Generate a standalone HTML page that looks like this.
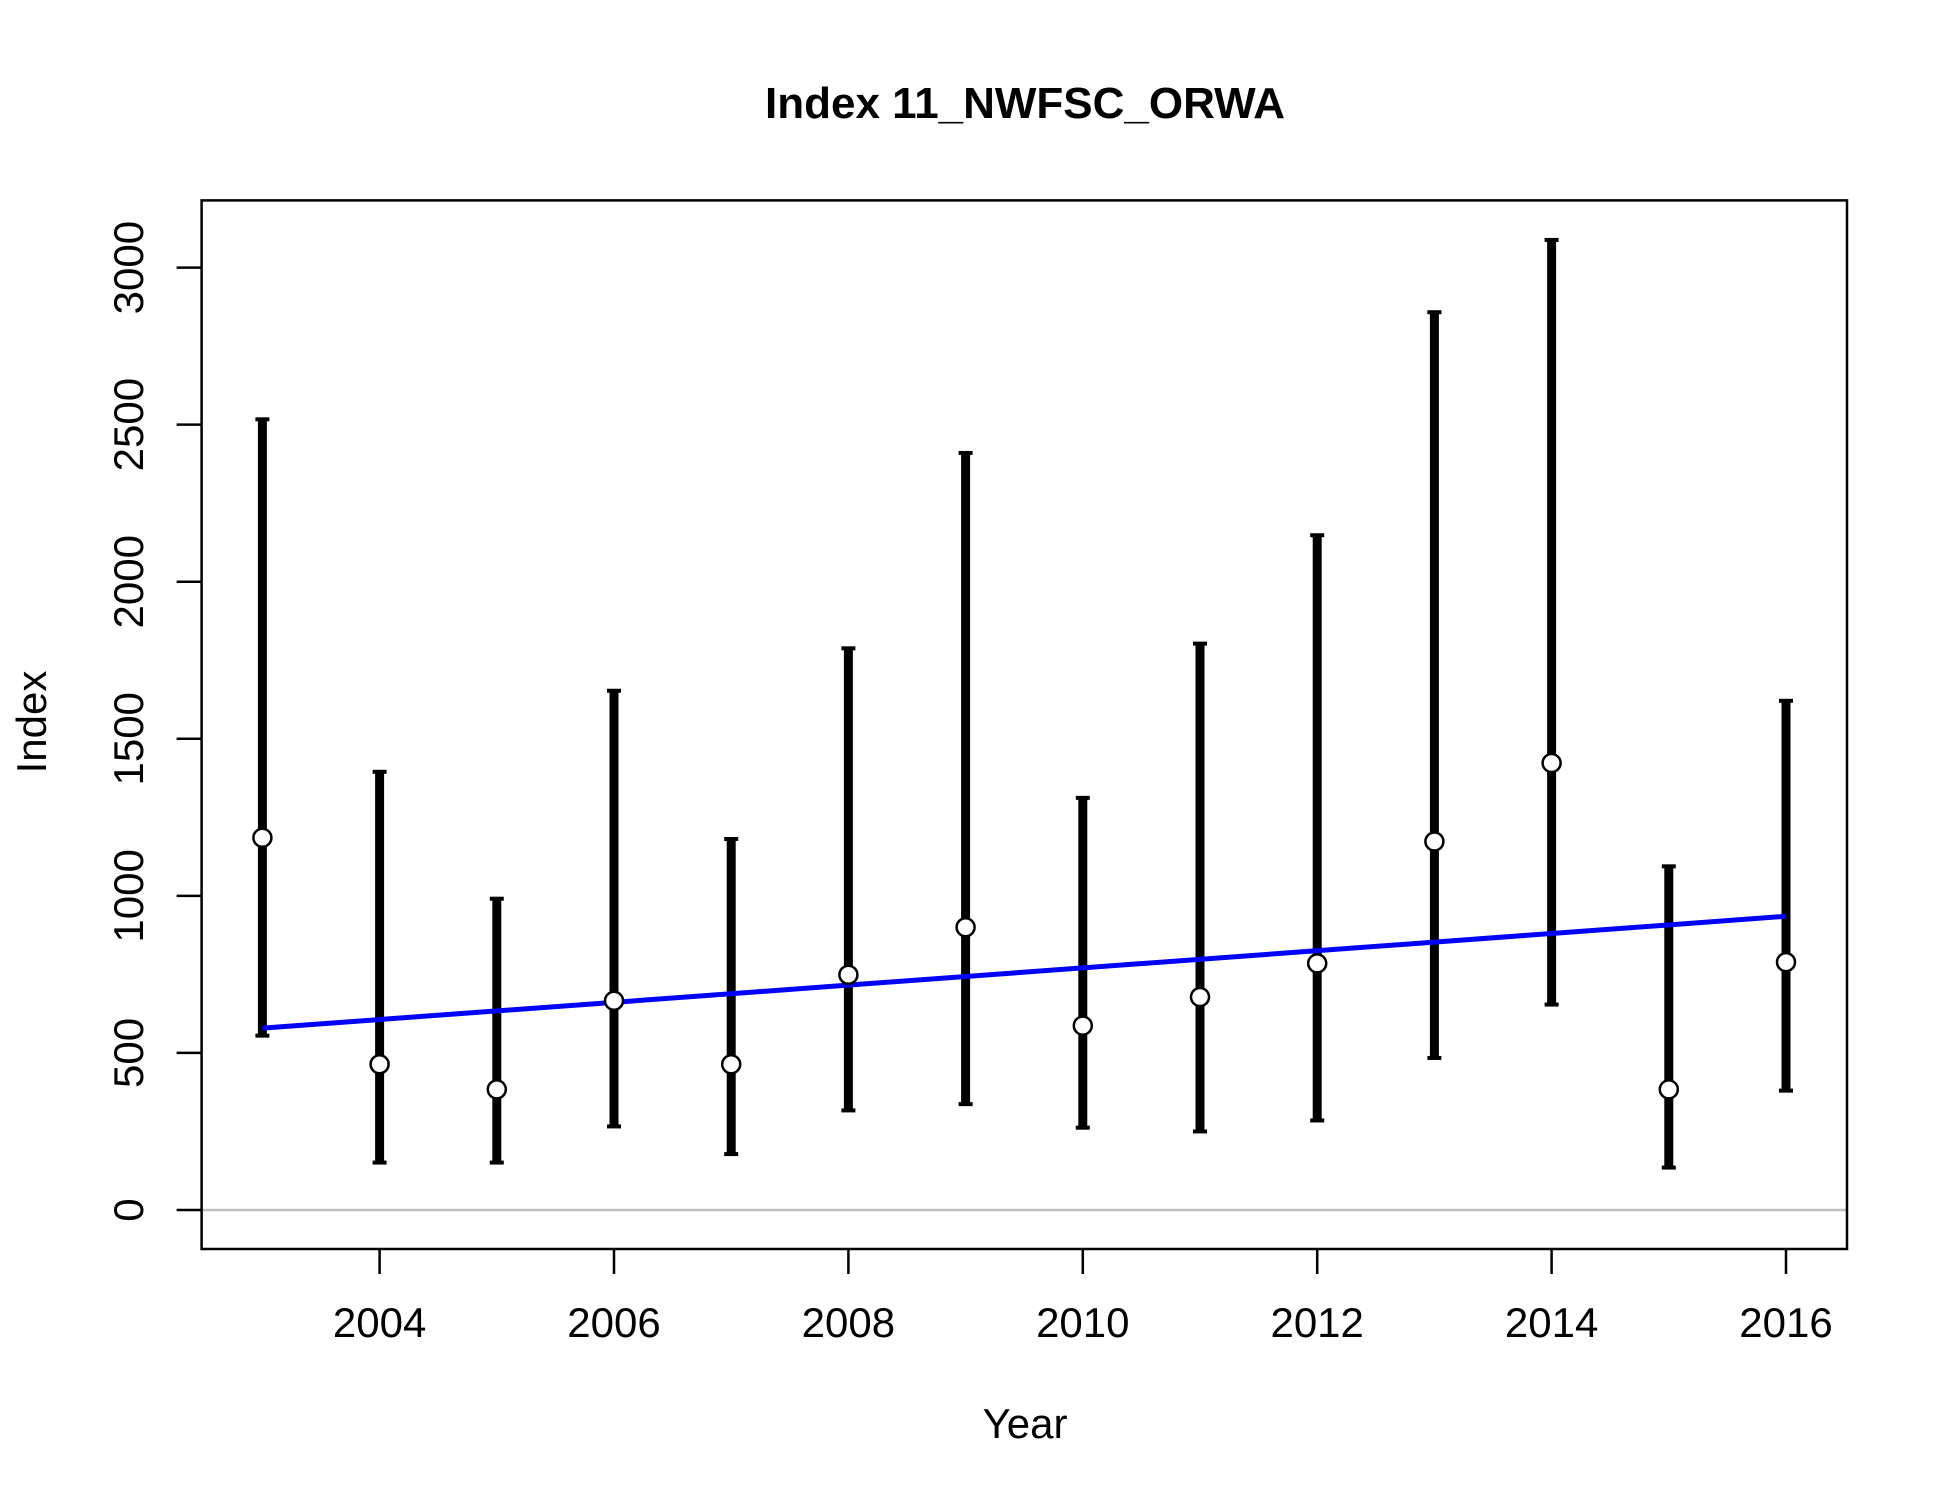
<!DOCTYPE html>
<html><head><meta charset="utf-8"><style>body{margin:0;background:#fff}svg{display:block}text{font-family:"Liberation Sans",Arial,sans-serif}</style></head>
<body>
<svg id="chart" width="1950" height="1500" viewBox="0 0 1950 1500">
<rect x="0" y="0" width="1950" height="1500" fill="#fff"/>
<text x="1025" y="118" text-anchor="middle" font-size="44" font-weight="bold">Index 11_NWFSC_ORWA</text>
<text x="1025" y="1438" text-anchor="middle" font-size="42">Year</text>
<text x="46" y="722" text-anchor="middle" font-size="42" transform="rotate(-90 46 722)">Index</text>
<g id="g"></g>
</svg>
<script>
const years=[2003,2004,2005,2006,2007,2008,2009,2010,2011,2012,2013,2014,2015,2016];
const values=[1185,464,384,666,464,749,900,587,678,785,1173,1423,384,789];
const upper=[2517,1395,991,1653,1181,1788,2410,1312,1803,2148,2858,3088,1094,1621];
const lower=[555,151,151,266,178,317,337,262,250,285,484,654,135,380];
const trend=[579,935];
const xTicks=[2004,2006,2008,2010,2012,2014,2016];
const yTicks=[0,500,1000,1500,2000,2500,3000];
const NS='http://www.w3.org/2000/svg';
const g=document.getElementById('g');
const X=v=>379.6+(v-2004)*(1786-379.6)/12;
const Y=v=>1210-v*(1210-267.6)/3000;
const L=201.6,R=1847,T=200.4,B=1249;
function mk(t,a){const e=document.createElementNS(NS,t);for(const k in a)e.setAttribute(k,a[k]);g.appendChild(e);return e;}
let e=mk('line',{x1:L,x2:R,y1:Y(0),y2:Y(0),stroke:'#bebebe','stroke-width':2.5});


years.forEach((yr,i)=>{
 const x=X(yr);
 let b=mk('line',{x1:x,x2:x,y1:Y(lower[i]),y2:Y(upper[i]),stroke:'#000','stroke-width':9});
 
 
 [upper[i],lower[i]].forEach(v=>{let c=mk('line',{x1:x-7,x2:x+7,y1:Y(v),y2:Y(v),stroke:'#000','stroke-width':4});
 
 });
});
let t=mk('line',{x1:X(2003),x2:X(2016),y1:Y(trend[0]),y2:Y(trend[1]),stroke:'#0000ff','stroke-width':5});


years.forEach((yr,i)=>{let p=mk('circle',{cx:X(yr),cy:Y(values[i]),r:9,fill:'#fff',stroke:'#000','stroke-width':2.5});
 
 });
let box=mk('rect',{x:L,y:T,width:R-L,height:B-T,fill:'none',stroke:'#000','stroke-width':2.5});


xTicks.forEach(v=>{const x=X(v);
 let l=mk('line',{x1:x,x2:x,y1:B,y2:B+25,stroke:'#000','stroke-width':2.5});
 
 
 let tx=mk('text',{x:x,y:1337,'text-anchor':'middle','font-size':42});tx.textContent=v;
 
 });
yTicks.forEach(v=>{const y=Y(v);
 let l=mk('line',{x1:L-25,x2:L,y1:y,y2:y,stroke:'#000','stroke-width':2.5});
 
 
 let tx=mk('text',{x:143,y:y,'text-anchor':'middle','font-size':42,transform:`rotate(-90 143 ${y})`});tx.textContent=v;
 
 });
</script>
</body></html>
